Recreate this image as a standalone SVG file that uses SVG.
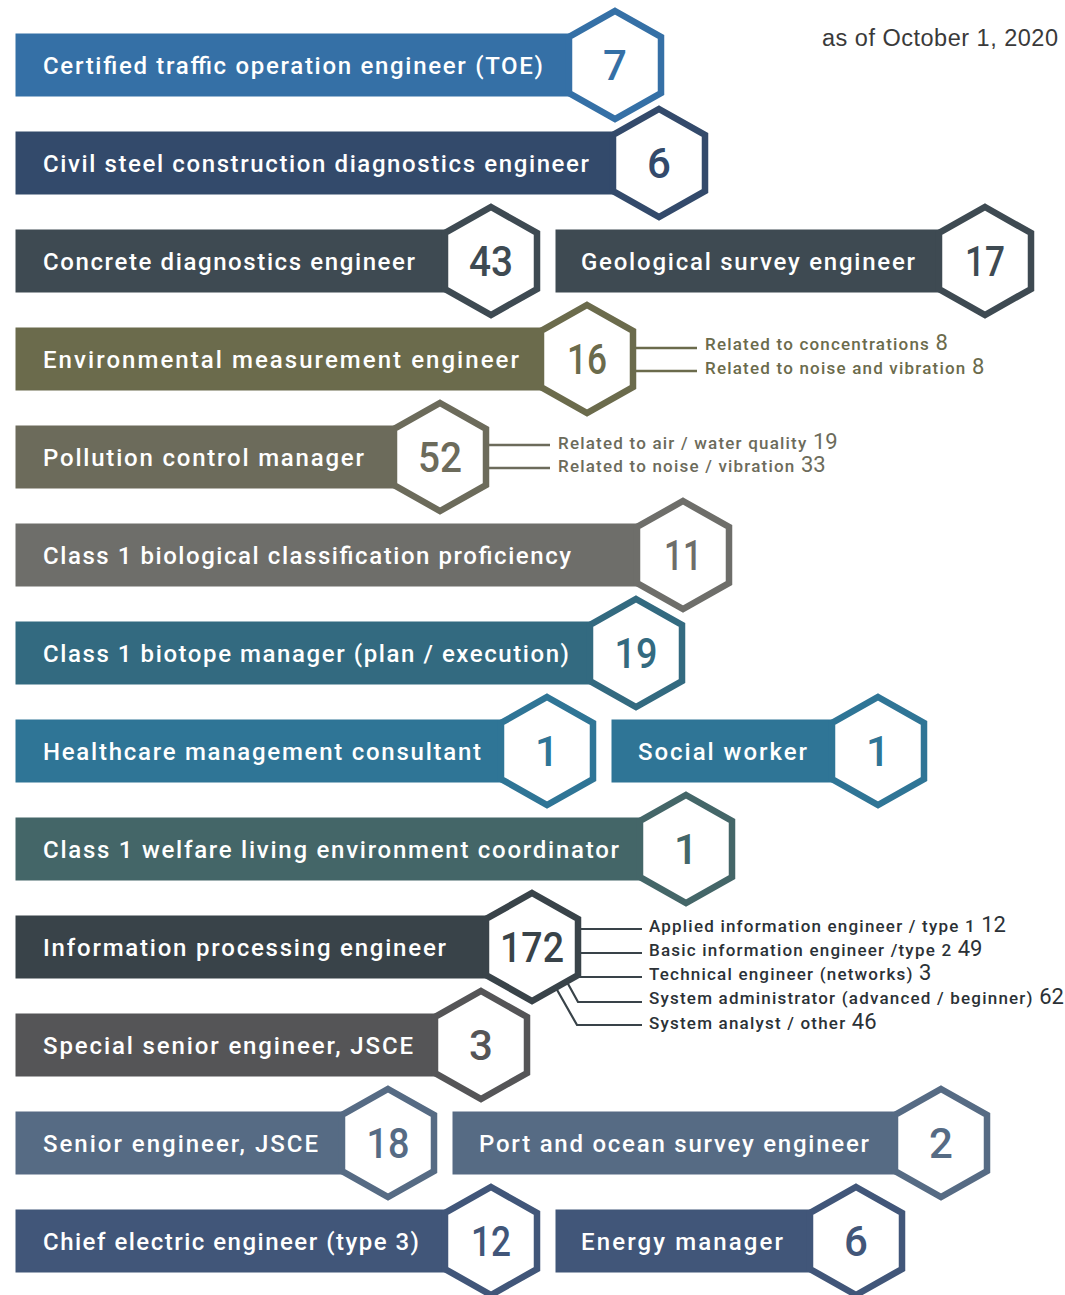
<svg xmlns="http://www.w3.org/2000/svg" xmlns:xlink="http://www.w3.org/1999/xlink" width="1065" height="1295" viewBox="0 0 1065 1295">
<style>
text{font-family:Roboto,"DejaVu Sans",sans-serif;}
.lbl{font-size:24px;font-weight:500;fill:#fff;}
.num{font-size:42px;font-weight:500;text-anchor:middle;}
.hex{fill:#fff;stroke-width:6.5;stroke-linejoin:miter;}
.ann{font-size:17px;font-weight:500;letter-spacing:1.2px;}
.ann tspan{font-size:22px;font-weight:400;letter-spacing:0;}
.ln{fill:none;stroke-width:2.4;}
.date{font-family:"Liberation Sans",Arial,sans-serif;font-size:23.5px;fill:#3a3a3a;}
.c1{fill:#3570a6;stroke:#3570a6}
.c2{fill:#334a6b;stroke:#334a6b}
.c3{fill:#3e4a52;stroke:#3e4a52}
.c4{fill:#6b6b4c;stroke:#6b6b4c}
.c5{fill:#6c6b5b;stroke:#6c6b5b}
.c6{fill:#6e6e6a;stroke:#6e6e6a}
.c7{fill:#336a80;stroke:#336a80}
.c8{fill:#2f7596;stroke:#2f7596}
.c9{fill:#446668;stroke:#446668}
.c10{fill:#394349;stroke:#394349}
.c11{fill:#555557;stroke:#555557}
.c12{fill:#566b84;stroke:#566b84}
.c13{fill:#415679;stroke:#415679}
rect{stroke:none}
text.num{stroke:none}
</style>
<defs>
<path id="hx" d="M0,-54 L46,-28 L46,28 L0,54 L-46,28 L-46,-28 Z"/>
</defs>
<rect x="0" y="0" width="1065" height="1295" fill="#fff"/>
<text class="date" x="822" y="46" textLength="236">as of October 1, 2020</text>

<g id="connectors">
<g stroke="#6b6b4c" class="ln">
<line x1="636" y1="348" x2="697" y2="348"/>
<line x1="636" y1="371" x2="697" y2="371"/>
</g>
<g stroke="#6c6b5b" class="ln">
<line x1="489" y1="445" x2="550" y2="445"/>
<line x1="489" y1="468" x2="550" y2="468"/>
</g>
<g stroke="#394349" class="ln" style="stroke-width:2.2">
<line x1="580" y1="929" x2="642" y2="929"/>
<line x1="580" y1="953" x2="642" y2="953"/>
<line x1="578" y1="977" x2="642" y2="977"/>
<polyline points="567,982 578,1002 642,1002"/>
<polyline points="556,988 577,1025 642,1025"/>
<circle cx="567" cy="982" r="1.8" fill="#394349" stroke="none"/>
<circle cx="556" cy="988" r="1.8" fill="#394349" stroke="none"/>
</g>
</g>

<g id="n-toe">
<rect class="c1" x="16" y="34" width="599" height="62"/>
<use href="#hx" x="615" y="65" class="hex" style="stroke:#3570a6"/>
<text class="lbl" x="43" y="74" textLength="500">Certified traffic operation engineer (TOE)</text>
<text class="num c1" x="615" y="80">7</text>
</g>

<g id="n-steel">
<rect class="c2" x="16" y="132" width="643" height="62"/>
<use href="#hx" x="659" y="163" class="hex" style="stroke:#334a6b"/>
<text class="lbl" x="43" y="172" textLength="546">Civil steel construction diagnostics engineer</text>
<text class="num c2" x="659" y="178">6</text>
</g>

<g id="n-concrete">
<rect class="c3" x="16" y="230" width="475" height="62"/>
<use href="#hx" x="491" y="261" class="hex" style="stroke:#3e4a52"/>
<text class="lbl" x="43" y="270" textLength="372">Concrete diagnostics engineer</text>
<text class="num c3" x="491" y="276" textLength="44" lengthAdjust="spacingAndGlyphs">43</text>
</g>

<g id="n-geo">
<rect class="c3" x="556" y="230" width="429" height="62"/>
<use href="#hx" x="985" y="261" class="hex" style="stroke:#3e4a52"/>
<text class="lbl" x="581" y="270" textLength="334">Geological survey engineer</text>
<text class="num c3" x="985" y="276" textLength="40" lengthAdjust="spacingAndGlyphs">17</text>
</g>

<g id="n-env">
<rect class="c4" x="16" y="328" width="571" height="62"/>
<use href="#hx" x="587" y="359" class="hex" style="stroke:#6b6b4c"/>
<text class="lbl" x="43" y="368" textLength="476">Environmental measurement engineer</text>
<text class="num c4" x="587" y="374" textLength="40" lengthAdjust="spacingAndGlyphs">16</text>
<text class="ann" x="705" y="350" fill="#6b6b4c">Related to concentrations <tspan>8</tspan></text>
<text class="ann" x="705" y="374" fill="#6b6b4c">Related to noise and vibration <tspan>8</tspan></text>
</g>

<g id="n-pollution">
<rect class="c5" x="16" y="426" width="424" height="62"/>
<use href="#hx" x="440" y="457" class="hex" style="stroke:#6c6b5b"/>
<text class="lbl" x="43" y="466" textLength="321">Pollution control manager</text>
<text class="num c5" x="440" y="472" textLength="44" lengthAdjust="spacingAndGlyphs">52</text>
<text class="ann" x="558" y="449" fill="#6c6b5b">Related to air / water quality <tspan>19</tspan></text>
<text class="ann" x="558" y="472" fill="#6c6b5b">Related to noise / vibration <tspan>33</tspan></text>
</g>

<g id="n-bio">
<rect class="c6" x="16" y="524" width="667" height="62"/>
<use href="#hx" x="683" y="555" class="hex" style="stroke:#6e6e6a"/>
<text class="lbl" x="43" y="564" textLength="528">Class 1 biological classification proficiency</text>
<text class="num c6" x="683" y="570" textLength="38" lengthAdjust="spacingAndGlyphs">11</text>
</g>

<g id="n-biotope">
<rect class="c7" x="16" y="622" width="620" height="62"/>
<use href="#hx" x="636" y="653" class="hex" style="stroke:#336a80"/>
<text class="lbl" x="43" y="662" textLength="526">Class 1 biotope manager (plan / execution)</text>
<text class="num c7" x="636" y="668" textLength="43" lengthAdjust="spacingAndGlyphs">19</text>
</g>

<g id="n-health">
<rect class="c8" x="16" y="720" width="531" height="62"/>
<use href="#hx" x="547" y="751" class="hex" style="stroke:#2f7596"/>
<text class="lbl" x="43" y="760" textLength="438">Healthcare management consultant</text>
<text class="num c8" x="547" y="766">1</text>
</g>

<g id="n-social">
<rect class="c8" x="612" y="720" width="266" height="62"/>
<use href="#hx" x="878" y="751" class="hex" style="stroke:#2f7596"/>
<text class="lbl" x="638" y="760" textLength="169">Social worker</text>
<text class="num c8" x="878" y="766">1</text>
</g>

<g id="n-welfare">
<rect class="c9" x="16" y="818" width="670" height="62"/>
<use href="#hx" x="686" y="849" class="hex" style="stroke:#446668"/>
<text class="lbl" x="43" y="858" textLength="576">Class 1 welfare living environment coordinator</text>
<text class="num c9" x="686" y="864">1</text>
</g>

<g id="n-info">
<rect class="c10" x="16" y="916" width="516" height="62"/>
<use href="#hx" x="532" y="947" class="hex" style="stroke:#394349"/>
<text class="lbl" x="43" y="956" textLength="403">Information processing engineer</text>
<text class="num c10" x="532" y="962" textLength="64" lengthAdjust="spacingAndGlyphs">172</text>
<g fill="#2b3136">
<text class="ann" x="649" y="932">Applied information engineer / type 1 <tspan>12</tspan></text>
<text class="ann" x="649" y="956">Basic information engineer /type 2 <tspan>49</tspan></text>
<text class="ann" x="649" y="980">Technical engineer (networks) <tspan>3</tspan></text>
<text class="ann" x="649" y="1004">System administrator (advanced / beginner) <tspan>62</tspan></text>
<text class="ann" x="649" y="1029">System analyst / other <tspan>46</tspan></text>
</g>
</g>

<g id="n-special">
<rect class="c11" x="16" y="1014" width="465" height="62"/>
<use href="#hx" x="481" y="1045" class="hex" style="stroke:#555557"/>
<text class="lbl" x="43" y="1054" textLength="370">Special senior engineer, JSCE</text>
<text class="num c11" x="481" y="1060">3</text>
</g>

<g id="n-senior">
<rect class="c12" x="16" y="1112" width="372" height="62"/>
<use href="#hx" x="388" y="1143" class="hex" style="stroke:#566b84"/>
<text class="lbl" x="43" y="1152" textLength="275">Senior engineer, JSCE</text>
<text class="num c12" x="388" y="1158" textLength="43" lengthAdjust="spacingAndGlyphs">18</text>
</g>

<g id="n-port">
<rect class="c12" x="453" y="1112" width="488" height="62"/>
<use href="#hx" x="941" y="1143" class="hex" style="stroke:#566b84"/>
<text class="lbl" x="479" y="1152" textLength="390">Port and ocean survey engineer</text>
<text class="num c12" x="941" y="1158">2</text>
</g>

<g id="n-chief">
<rect class="c13" x="16" y="1210" width="475" height="62"/>
<use href="#hx" x="491" y="1241" class="hex" style="stroke:#415679"/>
<text class="lbl" x="43" y="1250" textLength="376">Chief electric engineer (type 3)</text>
<text class="num c13" x="491" y="1256" textLength="40" lengthAdjust="spacingAndGlyphs">12</text>
</g>

<g id="n-energy">
<rect class="c13" x="556" y="1210" width="300" height="62"/>
<use href="#hx" x="856" y="1241" class="hex" style="stroke:#415679"/>
<text class="lbl" x="581" y="1250" textLength="202">Energy manager</text>
<text class="num c13" x="856" y="1256">6</text>
</g>
</svg>
